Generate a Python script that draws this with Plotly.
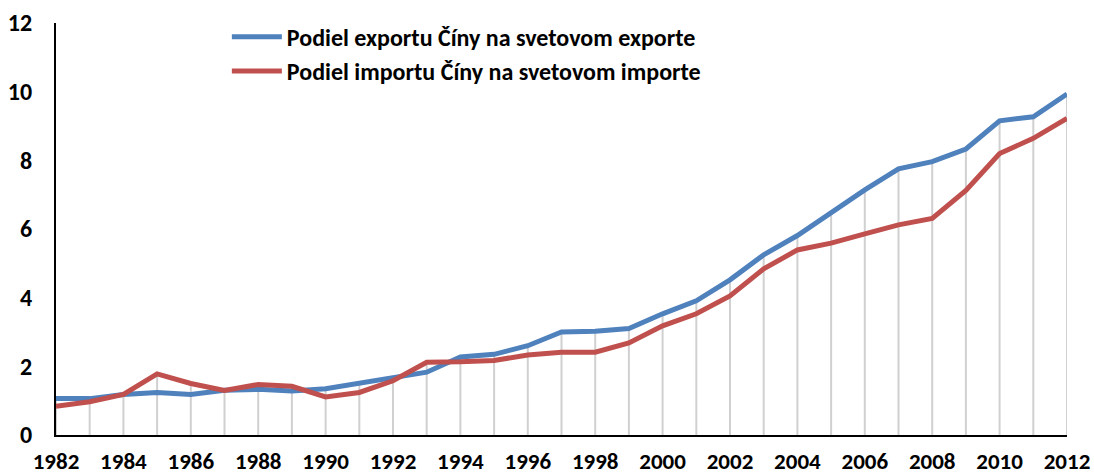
import plotly.graph_objects as go

years = list(range(1982, 2013))
export_share = [1.06, 1.06, 1.18, 1.24, 1.18, 1.30, 1.33, 1.28, 1.35, 1.52, 1.69,
                1.83, 2.27, 2.35, 2.60, 3.00, 3.02, 3.10, 3.53, 3.91, 4.52,
                5.25, 5.81, 6.49, 7.14, 7.75, 7.96, 8.33, 9.15, 9.27, 9.93]
import_share = [0.84, 0.97, 1.18, 1.78, 1.50, 1.30, 1.47, 1.42, 1.11, 1.24, 1.58,
                2.12, 2.13, 2.17, 2.33, 2.41, 2.41, 2.68, 3.18, 3.53, 4.05,
                4.84, 5.39, 5.59, 5.86, 6.12, 6.31, 7.12, 8.20, 8.64, 9.22]
names = ["Podiel exportu Číny na svetovom exporte",
         "Podiel importu Číny na svetovom importe"]
x_ticks = list(range(1982, 2013, 2))
y_ticks = [0, 2, 4, 6, 8, 10, 12]

FONT = "Carlito, Calibri, Lato, sans-serif"

# drop lines from the higher series down to the axis
dx, dy = [], []
for yr, e, i in zip(years, export_share, import_share):
    dx += [yr, yr, None]
    dy += [0, max(e, i), None]

fig = go.Figure()
fig.add_trace(go.Scatter(x=dx, y=dy, mode="lines", showlegend=False,
                         line=dict(color="rgba(170,170,170,0.55)", width=2),
                         hoverinfo="skip"))
fig.add_trace(go.Scatter(x=years, y=export_share, mode="lines", name=names[0],
                         legendgroup="a",
                         line=dict(color="#4F81BD", width=5)))
fig.add_trace(go.Scatter(x=years, y=import_share, mode="lines", name=names[1],
                         legendgroup="b",
                         line=dict(color="#C0504D", width=5)))

fig.update_layout(
    width=1094, height=475,
    margin=dict(l=56, r=27, t=23, b=40, autoexpand=False),
    paper_bgcolor="white", plot_bgcolor="white",
    font=dict(family=FONT, size=24, color="black"),
    showlegend=True,
    legend=dict(x=0.169, y=1.02, xanchor="left", yanchor="top",
                bgcolor="rgba(0,0,0,0)", tracegroupgap=0,
                font=dict(family=FONT, size=24, color="black", weight="bold"),
                itemwidth=50),
    xaxis=dict(range=[1982, 2012], tickvals=x_ticks,
               ticktext=[str(v) for v in x_ticks], automargin=False,
               showgrid=False, zeroline=False, showline=True,
               linecolor="black", linewidth=2, ticks="",
               tickfont=dict(family=FONT, size=23, weight="bold"),
               ticklabelstandoff=4),
    yaxis=dict(range=[0, 12], tickvals=y_ticks,
               ticktext=[str(v) for v in y_ticks], automargin=False,
               showgrid=False, zeroline=False, showline=True,
               linecolor="black", linewidth=2, ticks="",
               tickfont=dict(family=FONT, size=24, weight="bold"),
               ticklabelstandoff=17),
)

fig.write_html("out.html", config={"displayModeBar": False},
               post_script="document.body.style.margin='0';document.body.style.overflow='hidden';")
